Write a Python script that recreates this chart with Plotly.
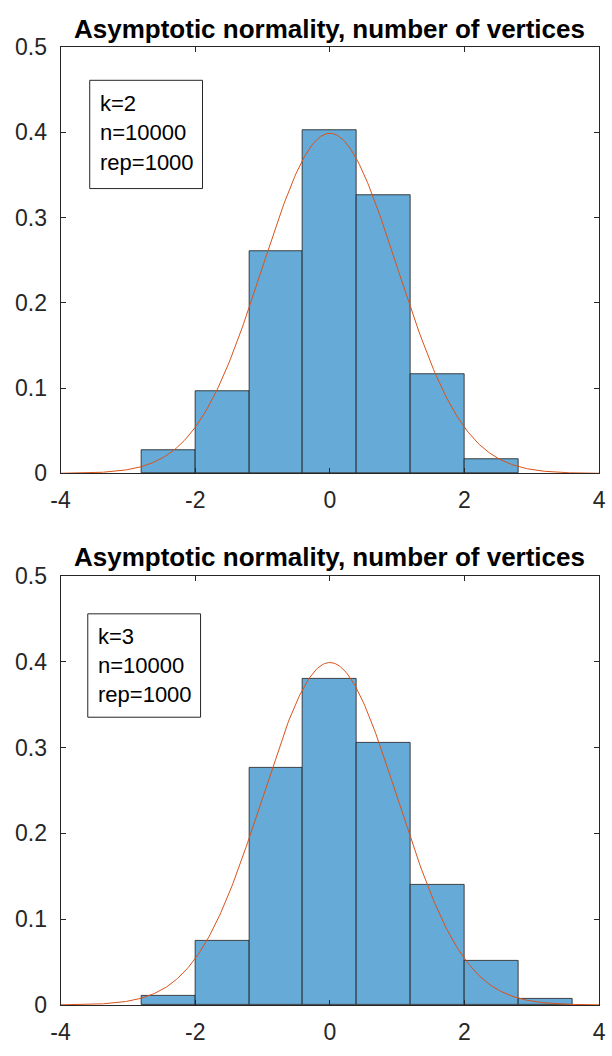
import numpy as np
import plotly.graph_objects as go

# ---- data ----
edges_k2 = [-2.8, -2.0, -1.2, -0.4, 0.4, 1.2, 2.0, 2.8]
dens_k2 = [0.0275, 0.09625, 0.26125, 0.4025, 0.32625, 0.11625, 0.01625]
edges_k3 = [-2.8, -2.0, -1.2, -0.4, 0.4, 1.2, 2.0, 2.8, 3.6]
dens_k3 = [0.01125, 0.075, 0.27625, 0.38, 0.305, 0.14, 0.05125, 0.0075]
labels_k2 = ["k=2", "n=10000", "rep=1000"]
labels_k3 = ["k=3", "n=10000", "rep=1000"]
title_text = "Asymptotic normality, number of vertices"
x_ticks = [-4, -2, 0, 2, 4]
x_ticktext = ["-4", "-2", "0", "2", "4"]
y_ticks = [0, 0.1, 0.2, 0.3, 0.4, 0.5]
y_ticktext = ["0", "0.1", "0.2", "0.3", "0.4", "0.5"]

W, H = 612, 1056
BAR = "#66AAD7"
CURVE = "#D95319"
AX = "#262626"
FONT = "Liberation Sans, Arial, sans-serif"

def px(x):
    return x / W

def py(y):
    return 1 - y / H

fig = go.Figure()

xs = np.linspace(-4, 4, 401)
pdf = np.exp(-xs ** 2 / 2) / np.sqrt(2 * np.pi)

for i, (edges, dens) in enumerate([(edges_k2, dens_k2), (edges_k3, dens_k3)]):
    e = np.array(edges)
    centers = (e[:-1] + e[1:]) / 2
    widths = e[1:] - e[:-1]
    xa = "x" if i == 0 else "x2"
    ya = "y" if i == 0 else "y2"
    fig.add_trace(go.Bar(x=centers, y=dens, width=widths,
                         marker=dict(color=BAR, line=dict(color="#1a1a1a", width=0.8)),
                         xaxis=xa, yaxis=ya, showlegend=False))
    fig.add_trace(go.Scatter(x=xs, y=pdf, mode="lines", line=dict(color=CURVE, width=1),
                             xaxis=xa, yaxis=ya, showlegend=False))

axis_common = dict(showgrid=False, zeroline=False, showline=True, linecolor=AX, linewidth=1,
                   mirror="ticks", ticks="inside", ticklen=5, tickcolor=AX,
                   ticklabeloverflow="allow",
                   tickfont=dict(family=FONT, size=23, color=AX))

# plot areas in pixels
top = (52, 606, 35, 472)
bot = (52, 606, 577, 1017)

fig.update_layout(
    width=W, height=H, margin=dict(l=0, r=0, t=0, b=0),
    paper_bgcolor="white", plot_bgcolor="white", bargap=0,
    xaxis=dict(domain=[px(top[0]), px(top[1])], range=[-4, 4], tickvals=x_ticks, ticktext=x_ticktext,
               anchor="y", ticklabelstandoff=6, **axis_common),
    yaxis=dict(domain=[py(top[3]), py(top[2])], range=[0, 0.5], tickvals=y_ticks, ticktext=y_ticktext,
               anchor="x", ticklabelstandoff=8, **axis_common),
    xaxis2=dict(domain=[px(bot[0]), px(bot[1])], range=[-4, 4], tickvals=x_ticks, ticktext=x_ticktext,
                anchor="y2", ticklabelstandoff=6, **axis_common),
    yaxis2=dict(domain=[py(bot[3]), py(bot[2])], range=[0, 0.5], tickvals=y_ticks, ticktext=y_ticktext,
                anchor="x2", ticklabelstandoff=8, **axis_common),
)

annotations = []
shapes = []
for area, labels, box, tx, ty0 in [
    (top, labels_k2, (82, 69, 198, 180), 91, 93),
    (bot, labels_k3, (80, 616, 196, 722), 88, 639),
]:
    cx = (area[0] + area[1]) / 2
    annotations.append(dict(text="<b>" + title_text + "</b>", xref="paper", yref="paper",
                            x=px(cx), y=py(area[2] - 19), xanchor="center", yanchor="middle",
                            showarrow=False, font=dict(family=FONT, size=26, color="black")))
    shapes.append(dict(type="rect", xref="paper", yref="paper",
                       x0=px(box[0]), x1=px(box[2]), y0=py(box[3]), y1=py(box[1]),
                       line=dict(color=AX, width=1), fillcolor="white", layer="above"))
    for j, lab in enumerate(labels):
        annotations.append(dict(text=lab, xref="paper", yref="paper", x=px(tx), y=py(ty0 + 30 * j),
                                xanchor="left", yanchor="middle", showarrow=False,
                                font=dict(family=FONT, size=22, color="black")))

fig.update_layout(annotations=annotations, shapes=shapes)
fig.write_html("out.html")
